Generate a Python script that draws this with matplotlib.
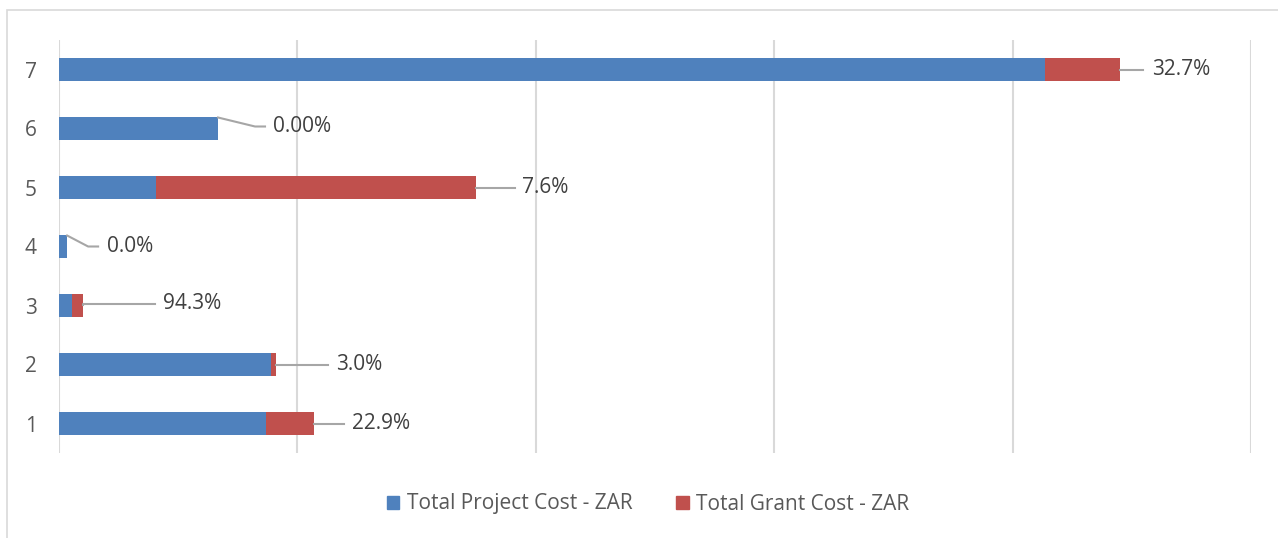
import matplotlib.pyplot as plt
from matplotlib.patches import Patch, Rectangle

plt.rcParams['font.family'] = ['Open Sans', 'DejaVu Sans']

# project numbers on the y axis
projects = ["1", "2", "3", "4", "5", "6", "7"]
project_cost = [8.68, 8.89, 0.55, 0.34, 4.07, 6.67, 41.34]
grant_cost = [2.01, 0.21, 0.46, 0.0, 13.42, 0.0, 3.15]
pct_labels = ["22.9%", "3.0%", "94.3%", "0.0%", "7.6%", "0.00%", "32.7%"]

BLUE = "#4F81BD"
RED = "#C0504D"
GRID = "#D9D9D9"
TXT = "#404040"

fig = plt.figure(figsize=(12.78, 5.38), dpi=100)
W, H = 1278, 538
ax = fig.add_axes([59 / W, 85 / H, (1251 - 59) / W, (453 - 40) / H])

ypos = list(range(1, len(projects) + 1))
ax.barh(ypos, project_cost, height=0.39, color=BLUE, label="Total Project Cost - ZAR")
ax.barh(ypos, grant_cost, left=project_cost, height=0.39, color=RED,
        label="Total Grant Cost - ZAR")

ax.set_xlim(0, 50)
ax.set_ylim(0.5, 7.5)
ax.set_xticks(range(0, 51, 10))
ax.set_xticklabels([])
ax.set_yticks(ypos)
ax.set_yticklabels(projects, fontsize=15, color="#595959")
ax.tick_params(length=0, pad=16)
ax.grid(axis="x", color=GRID, linewidth=1.5)
ax.set_axisbelow(True)
for s in ax.spines.values():
    s.set_visible(False)

# leader lines: (start dy, bend dx, bend dy, end dx, text dx), in pixels
leaders = [
    (0, 0, 0, 30, 38),
    (0, 0, 0, 52, 60),
    (1, 0, 2, 72, 80),
    (11, 21, 0, 31, 40),
    (0, 0, 0, 39, 46),
    (11, 37, 2, 47, 55),
    (0, 0, 0, 23, 32),
]

fig.canvas.draw()
for i, y in enumerate(ypos):
    xend = project_cost[i] + grant_cost[i]
    px, py = ax.transData.transform((xend, y))
    sdy, bdx, bdy, edx, tdx = leaders[i]
    xs = [px, px + bdx, px + edx]
    ys = [py + sdy, py + bdy, py + bdy]
    xs_f = [v / W for v in xs]
    ys_f = [v / H for v in ys]
    fig.add_artist(plt.Line2D(xs_f, ys_f, color="#A6A6A6", linewidth=1.5,
                              transform=fig.transFigure))
    fig.text((px + tdx) / W, (py + bdy) / H, pct_labels[i], fontsize=15,
             color=TXT, ha="left", va="center")

handles = [Patch(color=BLUE), Patch(color=RED)]
fig.legend(handles, ["Total Project Cost - ZAR", "Total Grant Cost - ZAR"],
           loc="center", bbox_to_anchor=(0.507, (H - 504) / H), ncol=2,
           frameon=False, fontsize=15, labelcolor="#595959",
           handlelength=0.6, handleheight=0.6, handletextpad=0.35,
           columnspacing=2.1)

fig.add_artist(Rectangle((7 / W, -0.01), 1.0, (H - 10) / H + 0.01,
                         transform=fig.transFigure, fill=False,
                         edgecolor=GRID, linewidth=1.2))

fig.savefig("out.png", dpi=100)
